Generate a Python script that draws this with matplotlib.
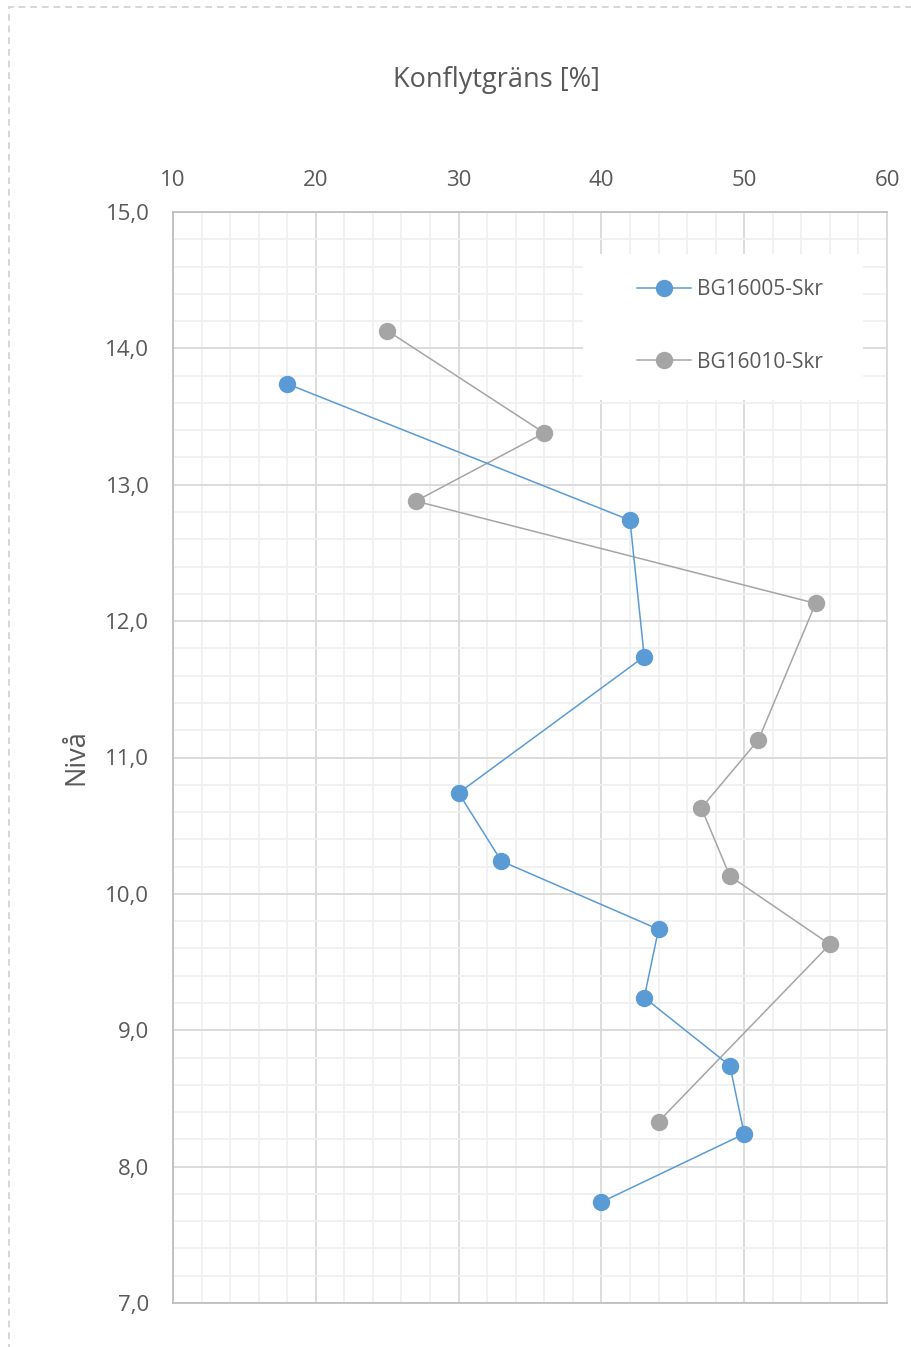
import matplotlib.pyplot as plt
from matplotlib.patches import Rectangle
from matplotlib.ticker import MultipleLocator, FuncFormatter

plt.rcParams['font.family'] = ['Open Sans', 'DejaVu Sans']

# data
bg05_x = [18, 42, 43, 30, 33, 44, 43, 49, 50, 40]
bg05_y = [13.74, 12.74, 11.74, 10.74, 10.24, 9.74, 9.24, 8.74, 8.24, 7.74]
bg10_x = [25, 36, 27, 55, 51, 47, 49, 56, 44]
bg10_y = [14.13, 13.38, 12.88, 12.13, 11.13, 10.63, 10.13, 9.63, 8.33]
names = ['BG16005-Skr', 'BG16010-Skr']

txt = '#595959'
blue = '#5B9BD5'
grey = '#A5A5A5'

fig = plt.figure(figsize=(9.12, 13.47), dpi=100)
ax = fig.add_axes([173/912, 1 - 1303/1347, 714/912, 1091/1347])

ax.plot(bg05_x, bg05_y, '-o', color=blue, lw=1.1, ms=11.5, label=names[0], zorder=5)
ax.plot(bg10_x, bg10_y, '-o', color=grey, lw=1.1, ms=11.5, label=names[1], zorder=4)

ax.set_xlim(10, 60)
ax.set_ylim(7, 15)
ax.xaxis.set_major_locator(MultipleLocator(10))
ax.xaxis.set_minor_locator(MultipleLocator(2))
ax.yaxis.set_major_locator(MultipleLocator(1))
ax.yaxis.set_minor_locator(MultipleLocator(0.2))
ax.yaxis.set_major_formatter(FuncFormatter(lambda v, p: f'{v:.1f}'.replace('.', ',')))

ax.xaxis.tick_top()
ax.tick_params(which='both', length=0)
ax.tick_params(axis='x', pad=15, labelsize=16, labelcolor=txt)
ax.tick_params(axis='y', pad=17, labelsize=16, labelcolor=txt)

ax.grid(which='major', color='#d9d9d9', lw=1.3)
ax.grid(which='minor', color='#f0f0f0', lw=1.3)
ax.set_axisbelow(True)
for s in ax.spines.values():
    s.set_color('#bfbfbf')
    s.set_linewidth(1.3)
ax.spines['right'].set_color('#d9d9d9')

fig.text(496/912, 1 - 80/1347, 'Konflytgräns [%]', fontsize=19.5, color=txt,
         ha='center', va='center')
ax.set_ylabel('Nivå', fontsize=19.5, color=txt, labelpad=11)

# white legend background box
ax.add_patch(Rectangle((583/912, 1 - 400/1347), 280/912, 146/1347,
                       transform=fig.transFigure, facecolor='white',
                       edgecolor='none', zorder=2))
leg = ax.legend(loc='center left', bbox_to_anchor=(618/912, 1 - 326/1347),
                bbox_transform=fig.transFigure, frameon=False,
                fontsize=15, labelspacing=2.45, handlelength=2.6,
                handletextpad=0.3, labelcolor=txt)
leg.set_zorder(6)

# dashed outer frame
fig.add_artist(Rectangle((9/912, -0.01), 1.0, 1 - 7/1347 + 0.01,
                         transform=fig.transFigure, fill=False,
                         edgecolor='#d0d0d0', lw=1.2, ls=(0, (4, 3))))

fig.savefig('out.png', dpi=100)
